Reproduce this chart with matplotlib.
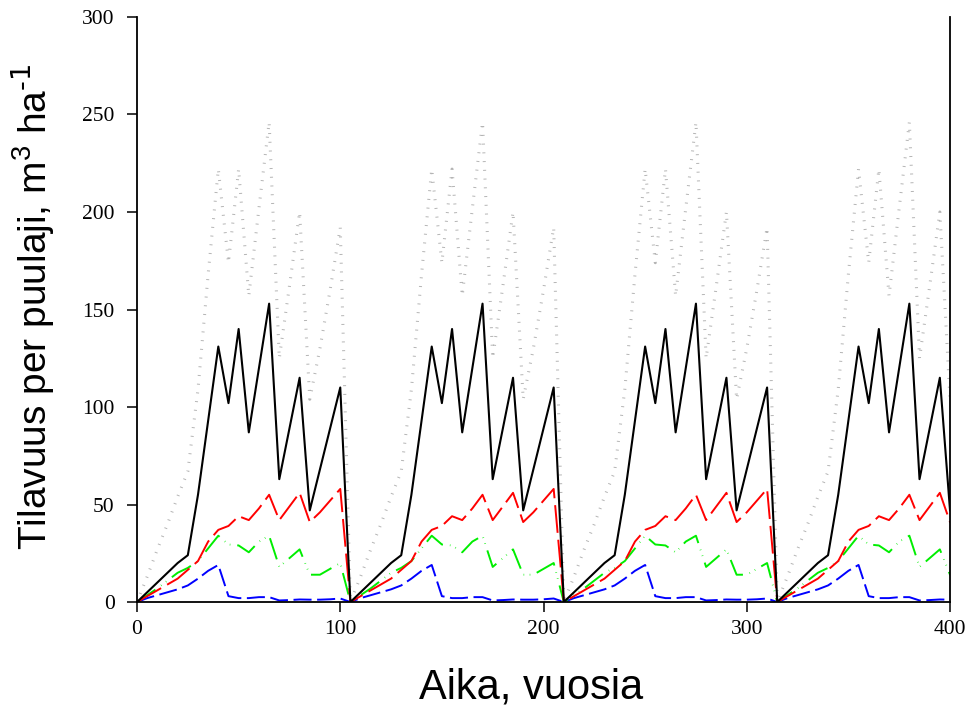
import numpy as np
import matplotlib.pyplot as plt

# one rotation (105 years), values every 5 years, m3/ha
rotation = 105
n_rotations = 4
age = [0, 5, 10, 15, 20, 25, 30, 35, 40, 45, 50, 55, 60, 65, 70, 75, 80, 85, 90, 95, 100]

vol_black = [0, 5, 10, 15, 20, 24, 55, 93, 131, 102, 140, 87, 120, 153, 63, 89, 115, 47, 68, 89, 110]
vol_red = [0, 3, 6, 9, 12, 16.5, 21, 31, 37, 39, 44, 42, 48, 55, 42, 49, 56, 41, 46, 52, 58]
vol_green = [0, 3.5, 7, 11, 15, 17.5, 21, 27.5, 34, 29.5, 29, 25.5, 31, 34, 18, 22.5, 27, 14, 14, 17, 20]
vol_blue = [0, 2, 3.5, 5, 6.5, 8.5, 12, 16, 19, 3, 2, 2, 2.5, 2.5, 0.8, 1, 1.3, 1.2, 1.2, 1.4, 1.8]
vol_total = [0, 13, 27, 40, 54, 67, 109, 168, 222, 174, 222, 157, 202, 246, 125, 162, 200, 104, 130, 160, 192]

# the same rotation is repeated four times
years = np.concatenate([np.array(age) + rotation * k for k in range(n_rotations)])

def rep(v):
    return np.tile(v, n_rotations)

plt.rcParams['mathtext.fontset'] = 'custom'
plt.rcParams['mathtext.rm'] = 'Liberation Sans Narrow'
plt.rcParams['mathtext.default'] = 'regular'
plt.rcParams['lines.scale_dashes'] = False

fig = plt.figure(figsize=(9.69, 7.08), dpi=100)
ax = fig.add_axes([0.1414, 0.1497, 0.8390, 0.8263])

ax.plot(years, rep(vol_total), color='#b4b4b4', lw=2.2, dashes=(0.7, 5.6),
        solid_capstyle='butt', dash_capstyle='butt')
ax.plot(years, rep(vol_blue), color='#0000ff', lw=1.4, dashes=(13, 4))
ax.plot(years, rep(vol_green), color='#00ee00', lw=1.4, dashes=(16, 5, 0.4, 4, 0.4, 5))
ax.plot(years, rep(vol_red), color='#ff0000', lw=1.4, dashes=(20, 5))
ax.plot(years, rep(vol_black), color='black', lw=1.5)

ax.set_xlim(0, 400)
ax.set_ylim(0, 300)
ax.set_xticks([0, 100, 200, 300, 400])
ax.set_yticks([0, 50, 100, 150, 200, 250, 300])

ax.spines['top'].set_visible(False)
for s in ['left', 'bottom', 'right']:
    ax.spines[s].set_linewidth(1.3)

ax.tick_params(direction='out', length=7, width=1.1, labelsize=15.5)
ax.tick_params(axis='y', pad=9)
ax.tick_params(axis='x', pad=6)
for lab in ax.get_xticklabels() + ax.get_yticklabels():
    lab.set_fontfamily('Liberation Serif')

lab_font = ['Liberation Sans Narrow', 'Liberation Sans']
ax.set_xlabel('Aika, vuosia', fontsize=30, family=lab_font)
ax.set_ylabel(r'Tilavuus per puulaji, m$^{3}$ ha$^{\text{-1}}$', fontsize=28, family=lab_font)
ax.xaxis.set_label_coords(0.4846, -0.112)
ax.yaxis.set_label_coords(-0.100, 0.505)

fig.savefig('out.png', dpi=100)
